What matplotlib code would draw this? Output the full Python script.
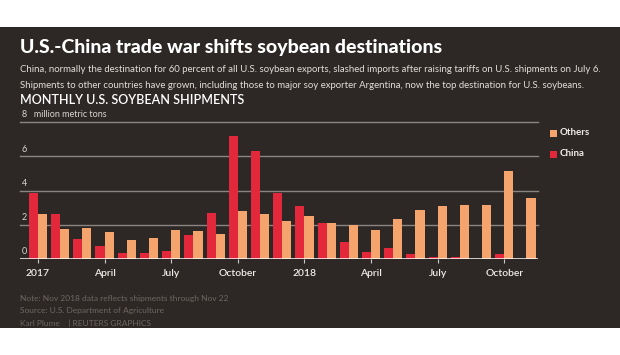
import matplotlib
matplotlib.use("Agg")
import matplotlib.pyplot as plt
import numpy as np
from matplotlib.patches import Rectangle

# monthly shipments, Jan 2017 - Nov 2018 (million metric tons)
months = ["Jan 2017", "Feb", "Mar", "Apr", "May", "Jun", "Jul", "Aug", "Sep", "Oct", "Nov", "Dec",
          "Jan 2018", "Feb", "Mar", "Apr", "May", "Jun", "Jul", "Aug", "Sep", "Oct", "Nov"]
china = [3.86, 2.6, 1.15, 0.76, 0.37, 0.35, 0.49, 1.38, 2.66, 7.17, 6.33, 3.86,
         3.1, 2.12, 0.97, 0.41, 0.66, 0.27, 0.12, 0.14, 0.0, 0.27, 0.0]
others = [2.6, 1.77, 1.79, 1.6, 1.09, 1.24, 1.67, 1.63, 1.46, 2.8, 2.6, 2.19,
          2.49, 2.08, 1.96, 1.69, 2.35, 2.85, 3.09, 3.13, 3.13, 5.13, 3.55]
tick_pos = [0, 3, 6, 9, 12, 15, 18, 21]
tick_labels = ["2017", "April", "July", "October", "2018", "April", "July", "October"]
y_ticks = [0, 2, 4, 6, 8]

BG = "#2d2826"
RED = "#e2283a"
ORANGE = "#f5a46d"
GRID = "#8a8581"

plt.rcParams["font.family"] = ["Lato", "DejaVu Sans"]

fig = plt.figure(figsize=(6.2, 3.55), dpi=100)
fig.patch.set_facecolor("white")
# dark panel
fig.patches.append(Rectangle((0, 27 / 355), 1, (328 - 27) / 355, transform=fig.transFigure,
                             facecolor=BG, edgecolor="none", zorder=-5))

ax = fig.add_axes([20 / 620, (355 - 259) / 355, 518 / 620, 137 / 355])
ax.set_zorder(2)
ax.patch.set_alpha(0)

x = np.arange(len(months))
w = 0.41
ax.bar(x - w / 2, china, width=w, color=RED, zorder=3)
ax.bar(x + w / 2, others, width=w, color=ORANGE, zorder=3)

ax.set_xlim(-0.81, 22.52)
ax.set_ylim(0, 8)
for s in ax.spines.values():
    s.set_visible(False)
for yv in y_ticks[1:]:
    ax.axhline(yv, color=GRID, lw=1, zorder=1, clip_on=False)
ax.axhline(0, color="white", lw=1.8, zorder=4)
ax.set_yticks([])
ax.set_xticks(tick_pos)
ax.set_xticklabels(tick_labels, color="#f0ece8", fontsize=7.5, fontweight="semibold")
ax.tick_params(axis="x", length=3, width=0.8, color="#cccccc", pad=4)

for yv in y_ticks:
    lab = str(yv) if yv < 8 else "8   million metric tons"
    ax.text(-0.72, yv + 0.15, lab, color="#d8d4d0", fontsize=6.5, ha="left", va="bottom", zorder=5)

# legend
for ypix, name, col in [(133, "Others", ORANGE), (154, "China", RED)]:
    fig.patches.append(Rectangle((550 / 620, (355 - ypix - 3.5) / 355), 7 / 620, 7 / 355,
                                 transform=fig.transFigure, facecolor=col, edgecolor="none"))
    fig.text(560 / 620, (355 - ypix) / 355, name, color="#f0ece8", fontsize=7, va="center",
             fontweight="bold")

fig.text(20 / 620, (355 - 47) / 355, "U.S.-China trade war shifts soybean destinations",
         color="white", fontsize=14, fontweight="black", va="center")
fig.text(20 / 620, (355 - 70) / 355,
         "China, normally the destination for 60 percent of all U.S. soybean exports, slashed imports after raising tariffs on U.S. shipments on July 6.",
         color="#e2ded9", fontsize=6.95, va="center")
fig.text(20 / 620, (355 - 85) / 355,
         "Shipments to other countries have grown, including those to major soy exporter Argentina, now the top destination for U.S. soybeans.",
         color="#e2ded9", fontsize=6.95, va="center")
fig.text(20 / 620, (355 - 100) / 355, "MONTHLY U.S. SOYBEAN SHIPMENTS",
         color="white", fontsize=9, fontweight="semibold", va="center")

notes = ["Note: Nov 2018 data reflects shipments through Nov 22",
         "Source: U.S. Department of Agriculture",
         "Karl Plume    | REUTERS GRAPHICS"]
for i, t in enumerate(notes):
    fig.text(20 / 620, (355 - 299 - 12 * i) / 355, t, color="#6e6763", fontsize=6, va="center")

fig.savefig("out.png", dpi=100, facecolor=fig.get_facecolor())
